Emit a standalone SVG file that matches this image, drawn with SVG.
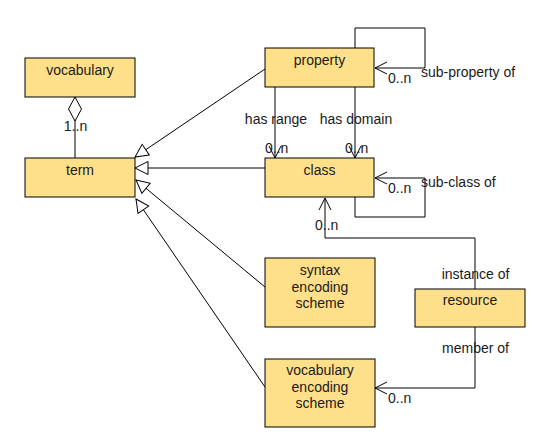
<svg xmlns="http://www.w3.org/2000/svg" width="543" height="446" viewBox="0 0 543 446">
  <style>
    .box { fill: #FFE08A; stroke: #000; stroke-width: 1; }
    .t { font-family: "Liberation Sans", Arial, sans-serif; font-size: 14px; fill: #1a1a1a; }
    .c { text-anchor: middle; }
    .ln { fill: none; stroke: #000; stroke-width: 1; }
    .gen { marker-end: url(#tri); }
    .assoc { marker-end: url(#open); }
  </style>
  <defs>
    <marker id="open" viewBox="-14 -8 16 16" refX="0" refY="0" markerWidth="16" markerHeight="16" markerUnits="userSpaceOnUse" orient="auto">
      <path d="M-12,-6 L0,0 L-12,6" fill="none" stroke="#000" stroke-width="1"/>
    </marker>
    <marker id="tri" viewBox="-15 -8 17 16" refX="0" refY="0" markerWidth="17" markerHeight="16" markerUnits="userSpaceOnUse" orient="auto">
      <path d="M-13,-6.5 L0,0 L-13,6.5 Z" fill="#fff" stroke="#000" stroke-width="1"/>
    </marker>
    <marker id="diamond" viewBox="-1 -8 27 16" refX="0" refY="0" markerWidth="27" markerHeight="16" markerUnits="userSpaceOnUse" orient="auto">
      <path d="M0,0 L12,-6.5 L24,0 L12,6.5 Z" fill="#fff" stroke="#000" stroke-width="1"/>
    </marker>
  </defs>
  <rect width="543" height="446" fill="#fff"/>

  <g id="connectors">
    <path class="ln" d="M75,97 V158" marker-start="url(#diamond)"/>
    <path class="ln gen" d="M265,69 L135,157"/>
    <path class="ln gen" d="M265,168 L135,168"/>
    <path class="ln gen" d="M265,287 L136,180"/>
    <path class="ln gen" d="M265,387 L136,199"/>
    <path class="ln assoc" d="M275,87 V158"/>
    <path class="ln assoc" d="M355,87 V158"/>
    <path class="ln assoc" d="M355,48 V28 H425 V68 H375"/>
    <path class="ln assoc" d="M355,197 V217 H425 V178 H375"/>
    <path class="ln assoc" d="M475,289 V238 H325 V198"/>
    <path class="ln assoc" d="M475,327 V388 H375"/>
    <text class="t c" x="75.5" y="131">1..n</text>
    <text class="t c" x="276" y="124">has range</text>
    <text class="t c" x="356" y="124">has domain</text>
    <text class="t" x="265" y="153">0..n</text>
    <text class="t" x="345" y="153">0..n</text>
    <text class="t" x="388" y="83">0..n</text>
    <text class="t" x="421" y="77">sub-property of</text>
    <text class="t" x="388" y="193">0..n</text>
    <text class="t" x="421" y="187">sub-class of</text>
    <text class="t" x="315" y="230">0..n</text>
    <text class="t c" x="475.5" y="279">instance of</text>
    <text class="t c" x="475.5" y="353">member of</text>
    <text class="t" x="388" y="403">0..n</text>
  </g>

  <g id="vocabulary">
    <rect class="box" x="25" y="58" width="110" height="39"/>
    <text class="t c" x="80" y="75">vocabulary</text>
  </g>
  <g id="term">
    <rect class="box" x="25" y="158" width="110" height="39"/>
    <text class="t c" x="80" y="175">term</text>
  </g>
  <g id="property">
    <rect class="box" x="265" y="48" width="109" height="39"/>
    <text class="t c" x="319.5" y="65">property</text>
  </g>
  <g id="class">
    <rect class="box" x="265" y="158" width="109" height="39"/>
    <text class="t c" x="319.5" y="175">class</text>
  </g>
  <g id="syntax-encoding-scheme">
    <rect class="box" x="265" y="258" width="110" height="69"/>
    <text class="t c" x="320" y="275">syntax</text>
    <text class="t c" x="320" y="291.5">encoding</text>
    <text class="t c" x="320" y="308">scheme</text>
  </g>
  <g id="resource">
    <rect class="box" x="415" y="289" width="110" height="38"/>
    <text class="t c" x="470" y="304.5">resource</text>
  </g>
  <g id="vocabulary-encoding-scheme">
    <rect class="box" x="265" y="359" width="110" height="68"/>
    <text class="t c" x="320" y="375">vocabulary</text>
    <text class="t c" x="320" y="391.5">encoding</text>
    <text class="t c" x="320" y="408">scheme</text>
  </g>
</svg>
